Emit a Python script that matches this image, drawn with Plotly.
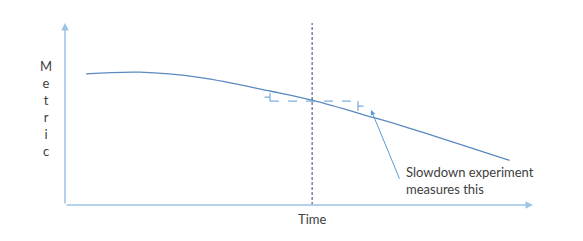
import plotly.graph_objects as go

# Curve (metric over time), abstract units
time = [0.45, 1.6, 2.9, 4.4, 5.3, 6.6, 7.2, 9.5]
metric = [7.2, 7.3, 7.0, 6.25, 5.75, 4.8, 4.35, 2.45]

# Axis extents
axis_time_max = 10.0
axis_metric_max = 10.0

# Experiment point
exp_time = 5.28
exp_metric = 5.71

# Bracketed measured gap
gap_left = 4.38
gap_right = 6.26
left_bracket_top = 6.15
right_bracket_bottom = 5.16

# Annotation text
label_x = "Time"
label_y = "M<br>e<br>t<br>r<br>i<br>c"
note = "Slowdown experiment<br>measures this"

W, H = 583, 241
x_range = [-1.389, 11.068]
y_range = [-1.978, 11.264]

AXIS_COL = "#9DC3E6"
CURVE_COL = "#5A8AC0"
DASH_COL = "#5B9BD5"
VLINE_COL = "#34476F"
TEXT_COL = "#404040"
FONT = "Lato"

fig = go.Figure()

# main curve
fig.add_trace(go.Scatter(x=time, y=metric, mode="lines",
                         line=dict(color=CURVE_COL, width=1.3, shape="spline", smoothing=1.0),
                         hoverinfo="skip"))

# vertical dotted line at experiment time
fig.add_trace(go.Scatter(x=[exp_time, exp_time], y=[0, axis_metric_max], mode="lines",
                         line=dict(color=VLINE_COL, width=1, dash="3px,2px"), hoverinfo="skip"))

# horizontal dashed segment
fig.add_trace(go.Scatter(x=[gap_left, gap_right], y=[exp_metric, exp_metric], mode="lines",
                         line=dict(color=DASH_COL, width=1, dash="dash"), hoverinfo="skip"))

# brackets
tick = 0.12
fig.add_trace(go.Scatter(x=[gap_left, gap_left, None, gap_left - tick, gap_left],
                         y=[exp_metric, left_bracket_top, None,
                            (exp_metric + left_bracket_top) / 2, (exp_metric + left_bracket_top) / 2],
                         mode="lines", line=dict(color=DASH_COL, width=1), hoverinfo="skip"))
fig.add_trace(go.Scatter(x=[gap_right, gap_right, None, gap_right, gap_right + tick],
                         y=[exp_metric, right_bracket_bottom, None,
                            (exp_metric + right_bracket_bottom) / 2, (exp_metric + right_bracket_bottom) / 2],
                         mode="lines", line=dict(color=DASH_COL, width=1), hoverinfo="skip"))

annotations = [
    # y axis arrow
    dict(x=0, y=axis_metric_max, ax=0, ay=0, xref="x", yref="y", axref="x", ayref="y",
         text="", showarrow=True, arrowhead=2, arrowsize=1, arrowwidth=1.5, arrowcolor=AXIS_COL),
    # x axis arrow
    dict(x=axis_time_max, y=0, ax=0, ay=0, xref="x", yref="y", axref="x", ayref="y",
         text="", showarrow=True, arrowhead=2, arrowsize=1, arrowwidth=1.5, arrowcolor=AXIS_COL),
    # pointer arrow from note
    dict(x=6.54, y=5.22, ax=7.16, ay=1.37, xref="x", yref="y", axref="x", ayref="y",
         text="", showarrow=True, arrowhead=2, arrowsize=1, arrowwidth=1, arrowcolor=DASH_COL),
    # note text
    dict(x=7.25, y=2.36, xref="x", yref="y", text=note, showarrow=False, align="left",
         xanchor="left", yanchor="top", font=dict(family=FONT, size=13, color=TEXT_COL)),
    # x label
    dict(x=exp_time, y=-0.23, xref="x", yref="y", text=label_x, showarrow=False,
         xanchor="center", yanchor="top", font=dict(family=FONT, size=13, color=TEXT_COL)),
    # y label
    dict(x=-0.41, y=8.18, xref="x", yref="y", text=label_y, showarrow=False,
         xanchor="center", yanchor="top", font=dict(family=FONT, size=13, color=TEXT_COL)),
]

fig.update_layout(
    width=W, height=H, autosize=False,
    margin=dict(l=0, r=0, t=0, b=0),
    paper_bgcolor="white", plot_bgcolor="white",
    showlegend=False,
    xaxis=dict(range=x_range, visible=False, fixedrange=True),
    yaxis=dict(range=y_range, visible=False, fixedrange=True),
    annotations=annotations,
)

fig.write_html("out.html", config={"displayModeBar": False})
